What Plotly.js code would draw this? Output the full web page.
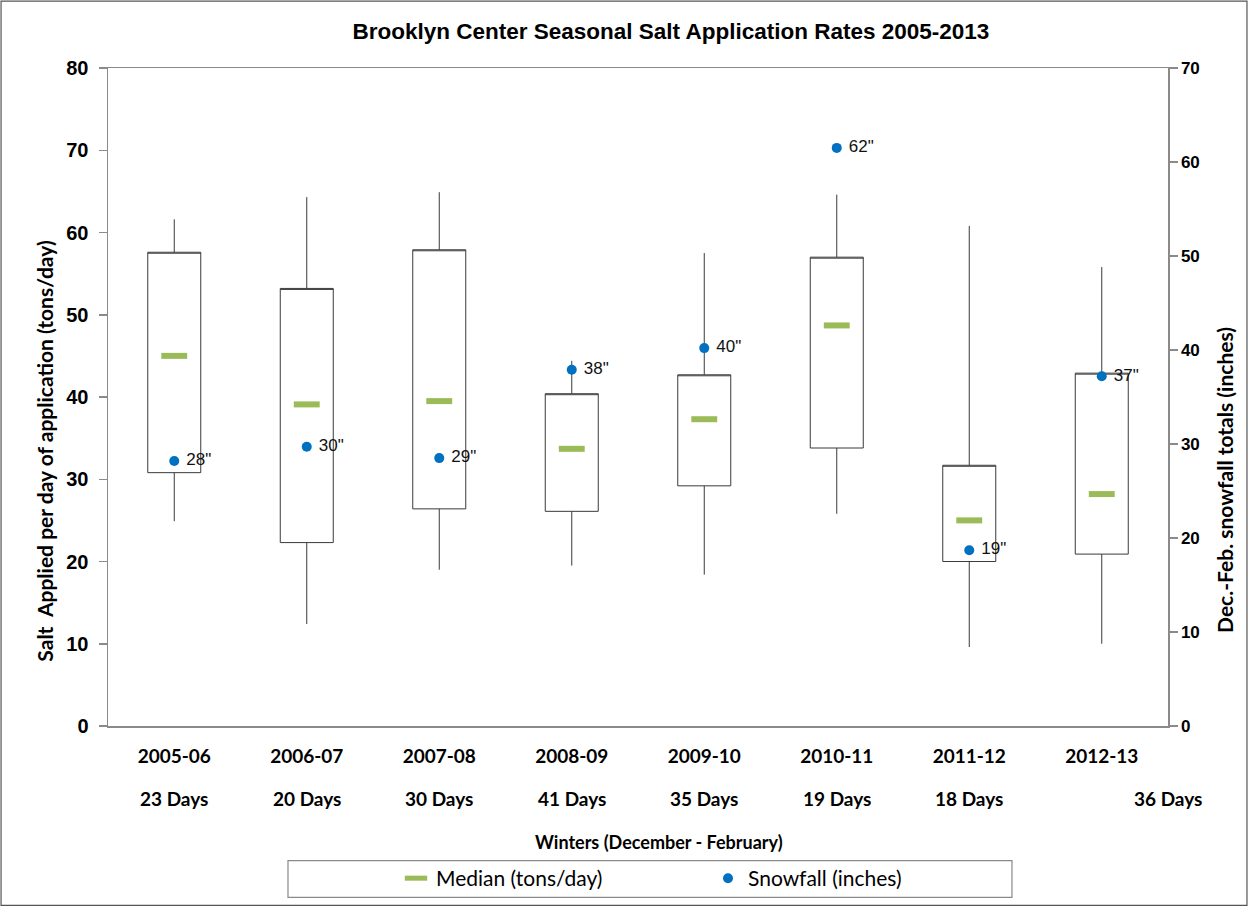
<!DOCTYPE html>
<html>
<head>
<meta charset="utf-8">
<script src="https://cdn.plot.ly/plotly-3.0.1.min.js"></script>
<style>html,body{margin:0;padding:0;background:#fff;}#chart{width:1249px;height:911px;}</style>
</head>
<body>
<div id="chart"></div>
<script>
// ---- data ----
const winters = ["2005-06", "2006-07", "2007-08", "2008-09", "2009-10", "2010-11", "2011-12", "2012-13"];
const dayLabels = ["23 Days", "20 Days", "30 Days", "41 Days", "35 Days", "19 Days", "18 Days", "36 Days"];
const saltMin = [24.9, 12.4, 19.0, 19.5, 18.4, 25.8, 9.6, 10.0];
const saltQ1 = [30.8, 22.3, 26.4, 26.1, 29.2, 33.8, 20.0, 20.9];
const saltMedian = [45.0, 39.1, 39.5, 33.7, 37.3, 48.7, 25.0, 28.2];
const saltQ3 = [57.6, 53.2, 57.9, 40.4, 42.7, 57.0, 31.7, 42.9];
const saltMax = [61.6, 64.3, 64.9, 44.4, 57.5, 64.6, 60.8, 55.8];
const snowfall = [28.2, 29.7, 28.5, 37.9, 40.2, 61.5, 18.7, 37.2];
const snowLabels = ['28"', '30"', '29"', '38"', '40"', '62"', '19"', '37"'];

const sansBold = "Lato, 'Open Sans', sans-serif";
const arial = "'Liberation Sans', Arial, sans-serif";

const traces = [
  {
    type: 'candlestick',
    x: winters,
    open: saltQ1,
    close: saltQ3,
    low: saltMin,
    high: saltMax,
    increasing: {line: {color: '#3a3a3a', width: 1}, fillcolor: 'rgba(255,255,255,1)'},
    decreasing: {line: {color: '#3a3a3a', width: 1}, fillcolor: 'rgba(255,255,255,1)'},
    whiskerwidth: 0,
    showlegend: false,
    hoverinfo: 'skip',
    xaxis: 'x', yaxis: 'y'
  },
  {
    type: 'scatter',
    mode: 'markers',
    name: 'Median (tons/day)',
    x: winters,
    y: saltMedian,
    marker: {symbol: 'line-ew', size: 18.5, color: '#9BBB59', line: {color: '#9BBB59', width: 6}},
    xaxis: 'x', yaxis: 'y'
  },
  {
    type: 'scatter',
    mode: 'markers+text',
    name: 'Snowfall (inches)',
    x: winters,
    y: snowfall,
    text: snowLabels,
    texttemplate: '\u00a0%{text}',
    textposition: 'middle right',
    textfont: {family: arial, size: 17, color: '#111'},
    cliponaxis: false,
    marker: {symbol: 'circle', size: 10, color: '#0070C0'},
    xaxis: 'x', yaxis: 'y2'
  }
];

const annotations = dayLabels.map((d, i) => ({
  x: winters[i], xref: 'x', y: -0.1106, yref: 'paper',
  text: d, showarrow: false, xanchor: 'center', yanchor: 'middle',
  xshift: i === dayLabels.length - 1 ? 66 : 0,
  font: {family: sansBold, size: 19, color: '#000', weight: 'bold'}
}));
annotations.push({
  x: 0.52, xref: 'paper', y: -0.176, yref: 'paper',
  text: 'Winters (December - February)', showarrow: false,
  xanchor: 'center', yanchor: 'middle',
  font: {family: sansBold, size: 18, color: '#000', weight: 'bold'}
});
annotations.push({
  x: -0.0594, xref: 'paper', y: 0.417, yref: 'paper',
  text: 'Salt  Applied per day of application (tons/day)', showarrow: false,
  textangle: -90, xanchor: 'center', yanchor: 'middle',
  font: {family: sansBold, size: 21, color: '#000', weight: 'bold'}
});
annotations.push({
  x: 1.0538, xref: 'paper', y: 0.374, yref: 'paper',
  text: 'Dec.-Feb. snowfall totals (inches)', showarrow: false,
  textangle: -90, xanchor: 'center', yanchor: 'middle',
  font: {family: sansBold, size: 21, color: '#000', weight: 'bold'}
});

const layout = {
  width: 1249, height: 911,
  margin: {l: 108, r: 81, t: 68, b: 183},
  paper_bgcolor: '#fff', plot_bgcolor: '#fff',
  title: {
    text: 'Brooklyn Center Seasonal Salt Application Rates 2005-2013',
    x: 0.531, xref: 'paper', xanchor: 'center',
    y: 0.966, yref: 'container', yanchor: 'middle',
    font: {family: arial, size: 22.5, color: '#000', weight: 'bold'}
  },
  boxgap: 0.6,
  boxgroupgap: 0,
  showlegend: true,
  legend: {
    orientation: 'h', x: (396 - 108) / 1060, xanchor: 'left', y: -0.2318, yanchor: 'middle',
    entrywidth: 267, entrywidthmode: 'pixels', itemwidth: 30,
    font: {family: sansBold, size: 21, color: '#000'},
    bgcolor: 'rgba(0,0,0,0)', borderwidth: 0
  },
  xaxis: {
    type: 'category', range: [-0.5, 7.5],
    rangeslider: {visible: false},
    showline: true, mirror: true, linecolor: '#8a8a8a', linewidth: 1.5,
    showgrid: false, zeroline: false, ticks: '',
    tickvals: winters, ticktext: winters,
    ticklabelstandoff: 13,
    tickfont: {family: sansBold, size: 19, color: '#000', weight: 'bold'},
    fixedrange: true
  },
  yaxis: {
    range: [0, 80], dtick: 10, tick0: 0,
    showline: true, linecolor: '#8a8a8a', linewidth: 1.5,
    ticks: 'outside', ticklen: 8, tickcolor: '#8a8a8a', tickwidth: 1.5,
    showgrid: false, zeroline: false,
    ticklabelstandoff: 6,
    tickfont: {family: arial, size: 20, color: '#000', weight: 'bold'}
  },
  yaxis2: {
    overlaying: 'y', side: 'right',
    range: [0, 70], dtick: 10, tick0: 0,
    showline: true, linecolor: '#8a8a8a', linewidth: 1.5,
    ticks: 'outside', ticklen: 8, tickcolor: '#8a8a8a', tickwidth: 1.5,
    showgrid: false, zeroline: false,
    tickfont: {family: arial, size: 17, color: '#000', weight: 'bold'}
  },
  annotations: annotations,
  shapes: [
    {type: 'rect', xref: 'paper', yref: 'paper', x0: 0.1698, x1: 0.8528, y0: -0.2606, y1: -0.2045,
     line: {color: '#8a8a8a', width: 1.2}, fillcolor: 'rgba(0,0,0,0)', layer: 'below'},
    {type: 'rect', xref: 'paper', yref: 'paper', x0: -0.1009, x1: 1.0745, y0: -0.2727, y1: 1.1015,
     line: {color: '#555', width: 1.2}, fillcolor: 'rgba(0,0,0,0)', layer: 'below'}
  ]
};

Plotly.newPlot('chart', traces, layout, {displayModeBar: false, staticPlot: true});
</script>
</body>
</html>
